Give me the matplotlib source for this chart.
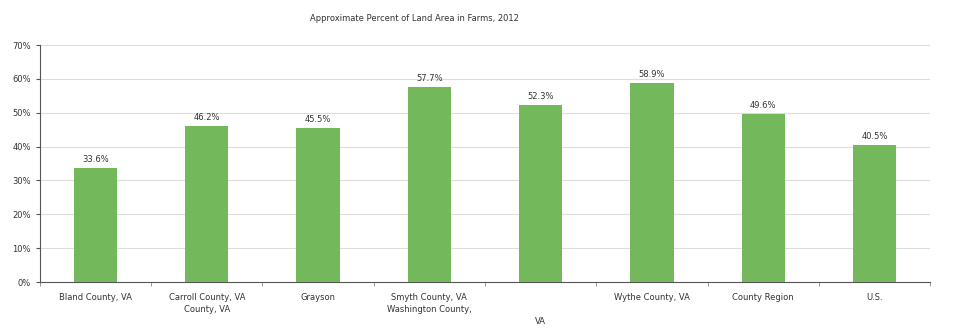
import matplotlib.pyplot as plt
from matplotlib.ticker import FuncFormatter, FixedLocator

labels = ["Bland County, VA", "Carroll County, VA\nCounty, VA", "Grayson",
          "Smyth County, VA\nWashington County,", "\n\nVA",
          "Wythe County, VA", "County Region", "U.S."]
values = [33.6, 46.2, 45.5, 57.7, 52.3, 58.9, 49.6, 40.5]
value_text = ["33.6%", "46.2%", "45.5%", "57.7%", "52.3%", "58.9%", "49.6%", "40.5%"]


def main():
    fig = plt.figure(figsize=(9.71, 3.31), dpi=100)
    ax = fig.add_axes([0.041, 0.148, 0.917, 0.716])

    x = list(range(len(values)))
    ax.bar(x, values, width=0.39, color="#74b85c", zorder=3)
    for xi, v, t in zip(x, values, value_text):
        ax.text(xi, v + 1.2, t, ha="center", va="bottom", fontsize=6, color="#333333")

    ax.set_xlim(-0.5, 7.5)
    ax.set_ylim(0, 70)
    ax.set_yticks(range(0, 71, 10))
    ax.yaxis.set_major_formatter(FuncFormatter(lambda v, p: f"{int(v)}%"))
    ax.set_xticks(x)
    ax.set_xticklabels(labels, fontsize=6, color="#333333", linespacing=1.4)
    ax.xaxis.set_minor_locator(FixedLocator([i + 0.5 for i in range(-1, 8)]))
    ax.tick_params(axis="x", which="major", length=0, pad=8)
    ax.tick_params(axis="x", which="minor", length=3, color="#888888")
    ax.tick_params(axis="y", labelsize=6, labelcolor="#333333", length=3, color="#555555")

    ax.grid(axis="y", color="#dddddd", linewidth=0.8, zorder=0)
    for s in ["top", "right"]:
        ax.spines[s].set_visible(False)
    ax.spines["left"].set_color("#555555")
    ax.spines["bottom"].set_color("#555555")

    fig.text(0.427, 0.945, "Approximate Percent of Land Area in Farms, 2012",
             ha="center", va="center", fontsize=6, color="#333333")
    fig.savefig("out.png", dpi=100)


if __name__ == "__main__":
    main()
